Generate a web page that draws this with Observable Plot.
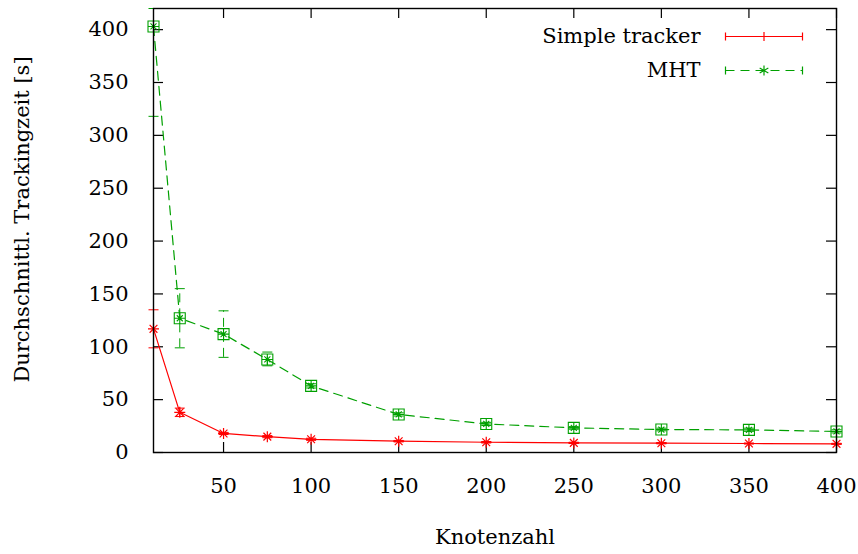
<!DOCTYPE html>
<html>
<head>
<meta charset="utf-8">
<script src="https://cdn.jsdelivr.net/npm/d3@7"></script>
<script src="https://cdn.jsdelivr.net/npm/@observablehq/plot@0.6"></script>
<style>
  html, body { margin: 0; padding: 0; background: #fff; }
  #chart { width: 858px; height: 554px; }
  #chart svg text { font-family: 'DejaVu Serif', serif !important; }
</style>
</head>
<body>
<div id="chart"></div>
<script>
// ---- data ----
const knoten = [10, 25, 50, 75, 100, 150, 200, 250, 300, 350, 400];

const simpleMean = [117, 38, 18, 15, 12.5, 10.7, 9.7, 9.1, 8.8, 8.5, 8.2];
const simpleLow  = [99, 34, 17, 14, 11.5, 10, 9, 8.5, 8.2, 8, 7.7];
const simpleHigh = [135, 42, 19, 16, 13.5, 11.4, 10.4, 9.7, 9.4, 9, 8.7];

const mhtMean = [403, 127, 112, 88, 63, 36, 27, 23.3, 21.7, 21.4, 19.9];
const mhtLow  = [318, 99, 90, 82, 61, 34.5, 25.5, 22, 20.5, 20, 18.5];
const mhtHigh = [420, 155, 134, 95, 65, 37.5, 28.5, 24.5, 23, 23, 21.5];

const xTicks = [50, 100, 150, 200, 250, 300, 350, 400];
const yTicks = [0, 50, 100, 150, 200, 250, 300, 350, 400];

const seriesNames = ["Simple tracker", "MHT"];
const xLabel = "Knotenzahl";
const yLabel = "Durchschnittl. Trackingzeit [s]";

// ---- build tables ----
const simple = knoten.map((k, i) => ({x: k, y: simpleMean[i], lo: simpleLow[i], hi: simpleHigh[i]}));
const mht = knoten.map((k, i) => ({x: k, y: mhtMean[i], lo: mhtLow[i], hi: mhtHigh[i]}));

const RED = "#ff0000";
const GREEN = "#00a000";
const DASH = "9,6";

// ---- custom symbols ----
const capSym = {draw(c) { c.moveTo(-5, 0); c.lineTo(5, 0); }};
const asterisk = {draw(c) {
  const r = 5.5;
  for (let a = 0; a < 4; a++) {
    const t = a * Math.PI / 4;
    c.moveTo(-r * Math.cos(t), -r * Math.sin(t));
    c.lineTo(r * Math.cos(t), r * Math.sin(t));
  }
}};
const boxStar = {draw(c) {
  const s = 5.5;
  c.moveTo(-s, -s); c.lineTo(s, -s); c.lineTo(s, s); c.lineTo(-s, s); c.closePath();
  c.moveTo(-s, 0); c.lineTo(s, 0);
  c.moveTo(0, -s); c.lineTo(0, s);
  const r = 3;
  c.moveTo(-r, -r); c.lineTo(r, r);
  c.moveTo(-r, r); c.lineTo(r, -r);
}};
// legend samples
const legLine = {draw(c) { c.moveTo(-38.5, 0); c.lineTo(38.5, 0); }};
const legCaps = {draw(c) {
  c.moveTo(-38.5, -4); c.lineTo(-38.5, 4);
  c.moveTo(38.5, -4); c.lineTo(38.5, 4);
}};
const legPlus = {draw(c) { c.moveTo(0, -4.5); c.lineTo(0, 4.5); }};
const legStar = {draw(c) {
  const r = 5;
  for (let a = 0; a < 3; a++) {
    const t = Math.PI / 2 + a * Math.PI / 3;
    c.moveTo(-r * Math.cos(t), -r * Math.sin(t));
    c.lineTo(r * Math.cos(t), r * Math.sin(t));
  }
}};

const W = 858, H = 554;
const mL = 153, mR = 22, mT = 8, mB = 102;
const innerW = W - mL - mR, innerH = H - mT - mB;
const T = 10; // tick length

const chart = Plot.plot({
  width: W,
  height: H,
  marginLeft: mL,
  marginRight: mR,
  marginTop: mT,
  marginBottom: mB,
  style: {fontFamily: "'DejaVu Serif', serif", fontSize: "21px", background: "#fff", color: "#000", overflow: "visible"},
  x: {domain: [10, 400]},
  y: {domain: [0, 420]},
  marks: [
    // inward ticks (mirrored)
    Plot.tickX(xTicks, {x: d => d, insetTop: innerH - T, stroke: "#000", strokeWidth: 1.2}),
    Plot.tickX(xTicks, {x: d => d, insetBottom: innerH - T, stroke: "#000", strokeWidth: 1.2}),
    Plot.tickY(yTicks, {y: d => d, insetRight: innerW - T, stroke: "#000", strokeWidth: 1.2}),
    Plot.tickY(yTicks, {y: d => d, insetLeft: innerW - T, stroke: "#000", strokeWidth: 1.2}),
    // tick labels
    Plot.axisX({ticks: xTicks, tickSize: 0, tickPadding: 26, tickFormat: d => String(d), label: null, fontSize: 21}),
    Plot.axisY({ticks: yTicks, tickSize: 0, tickPadding: 25, tickFormat: d => String(d), label: null, fontSize: 21}),
    // axis titles
    Plot.text([xLabel], {text: d => d, frameAnchor: "bottom", dy: 85, lineAnchor: "middle", textAnchor: "middle", fontSize: 21}),
    Plot.text([yLabel], {text: d => d, frameAnchor: "left", dx: -131, dy: -11, rotate: -90, textAnchor: "middle", lineAnchor: "middle", fontSize: 21}),

    // Simple tracker
    Plot.ruleX(simple, {x: "x", y1: "lo", y2: "hi", stroke: RED, strokeWidth: 1}),
    Plot.dot(simple, {x: "x", y: "lo", symbol: capSym, stroke: RED, strokeWidth: 1, fill: "none"}),
    Plot.dot(simple, {x: "x", y: "hi", symbol: capSym, stroke: RED, strokeWidth: 1, fill: "none"}),
    Plot.line(simple, {x: "x", y: "y", stroke: RED, strokeWidth: 1.2}),
    Plot.dot(simple, {x: "x", y: "y", symbol: asterisk, stroke: RED, strokeWidth: 1.2, fill: "none"}),

    // MHT
    Plot.ruleX(mht, {x: "x", y1: "lo", y2: "hi", stroke: GREEN, strokeWidth: 1, strokeDasharray: DASH}),
    Plot.dot(mht, {x: "x", y: "lo", symbol: capSym, stroke: GREEN, strokeWidth: 1, fill: "none"}),
    Plot.dot(mht, {x: "x", y: "hi", symbol: capSym, stroke: GREEN, strokeWidth: 1, fill: "none"}),
    Plot.line(mht, {x: "x", y: "y", stroke: GREEN, strokeWidth: 1.2, strokeDasharray: DASH}),
    Plot.dot(mht, {x: "x", y: "y", symbol: boxStar, stroke: GREEN, strokeWidth: 1.1, fill: "none"}),

    // legend
    Plot.text([seriesNames[0]], {text: d => d, frameAnchor: "top-right", dx: -136, dy: 28, textAnchor: "end", lineAnchor: "middle", fontSize: 21}),
    Plot.text([seriesNames[1]], {text: d => d, frameAnchor: "top-right", dx: -136, dy: 62, textAnchor: "end", lineAnchor: "middle", fontSize: 21}),
    Plot.dot([0], {frameAnchor: "top-right", dx: -72.5, dy: 28, symbol: legLine, stroke: RED, strokeWidth: 1.2, fill: "none"}),
    Plot.dot([0], {frameAnchor: "top-right", dx: -72.5, dy: 28, symbol: legCaps, stroke: RED, strokeWidth: 1.2, fill: "none"}),
    Plot.dot([0], {frameAnchor: "top-right", dx: -72.5, dy: 28, symbol: legPlus, stroke: RED, strokeWidth: 1.2, fill: "none"}),
    Plot.dot([0], {frameAnchor: "top-right", dx: -72.5, dy: 62, symbol: legLine, stroke: GREEN, strokeWidth: 1.2, strokeDasharray: DASH, fill: "none"}),
    Plot.dot([0], {frameAnchor: "top-right", dx: -72.5, dy: 62, symbol: legCaps, stroke: GREEN, strokeWidth: 1.2, fill: "none"}),
    Plot.dot([0], {frameAnchor: "top-right", dx: -72.5, dy: 62, symbol: legStar, stroke: GREEN, strokeWidth: 1.2, fill: "none"}),

    Plot.frame({stroke: "#000", strokeWidth: 1.4})
  ]
});
document.getElementById("chart").appendChild(chart);
</script>
</body>
</html>
